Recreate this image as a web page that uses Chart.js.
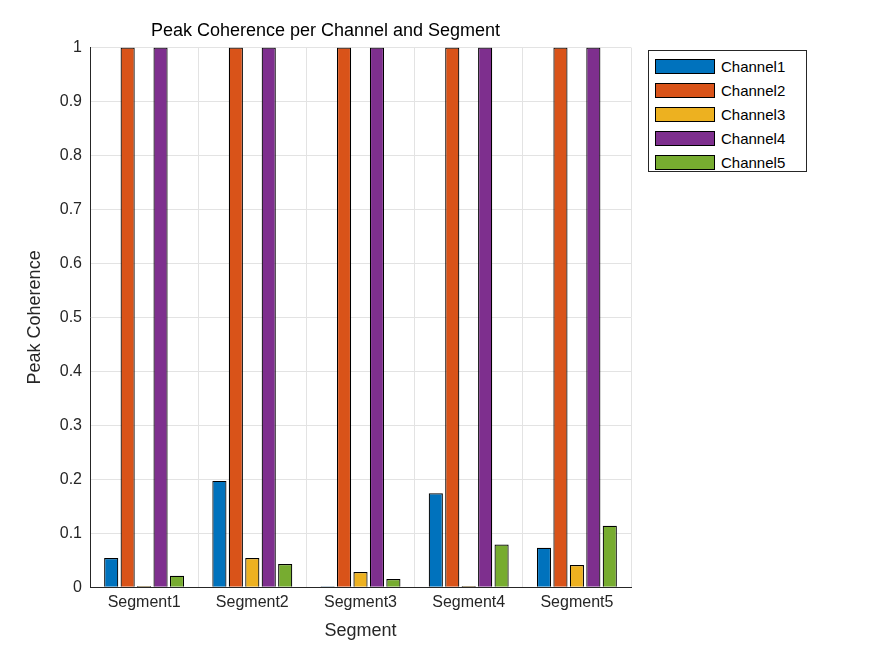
<!DOCTYPE html>
<html><head><meta charset="utf-8">
<script src="https://cdn.jsdelivr.net/npm/chart.js"></script>
<style>
body{margin:0;background:#fff;font-family:Arial,"Liberation Sans",sans-serif}
#wrap{position:relative;width:875px;height:656px}
#legend{position:absolute;left:648px;top:50px;width:159px;height:122px;border:1px solid #262626;background:#fff;box-sizing:border-box;padding:3px 0 0 6px}
.li{display:flex;align-items:center;height:24px;font-size:15px;color:#000}
.sw{width:60px;height:15px;border:1px solid #000;box-sizing:border-box;margin-right:6px}
</style></head><body>
<div id="wrap"><canvas id="c" width="875" height="656"></canvas><div id="legend"></div></div>
<script>
const categories=["Segment1","Segment2","Segment3","Segment4","Segment5"];
const seriesNames=["Channel1","Channel2","Channel3","Channel4","Channel5"];
const channel1=[0.054,0.197,0.0,0.174,0.073];
const channel2=[1,1,1,1,1];
const channel3=[0.002,0.054,0.028,0.002,0.041];
const channel4=[1,1,1,1,1];
const channel5=[0.021,0.043,0.015,0.079,0.114];
const colors=["#0072BD","#D95319","#EDB120","#7E2F8E","#77AC30"];
const yTicks=[0,0.1,0.2,0.3,0.4,0.5,0.6,0.7,0.8,0.9,1];
const data=[channel1,channel2,channel3,channel4,channel5];
const lg=document.getElementById('legend');
seriesNames.forEach((n,i)=>{lg.innerHTML+=`<div class="li"><div class="sw" style="background:${colors[i]}"></div>${n}</div>`;});
new Chart(document.getElementById('c'),{type:'bar',
data:{labels:categories,datasets:data.map((d,i)=>({label:seriesNames[i],data:d,backgroundColor:colors[i],borderColor:'#000',borderWidth:1.2,categoryPercentage:0.76,barPercentage:0.86,minBarLength:1}))},
options:{responsive:false,animation:false,
layout:{padding:{left:20,right:244,top:0,bottom:10}},
plugins:{legend:{display:false},tooltip:{enabled:false},
title:{display:true,text:'Peak Coherence per Channel and Segment',color:'#000',font:{size:18,weight:'normal',family:'Arial'},padding:{top:20,bottom:6}}},
scales:{
x:{grid:{color:'#e3e3e3',drawTicks:true,tickLength:0},border:{color:'#262626'},ticks:{color:'#262626',font:{size:16,family:'Arial'},padding:6},
 title:{display:true,text:'Segment',color:'#262626',font:{size:18,family:'Arial'},padding:{top:2}}},
y:{min:0,max:1,afterBuildTicks:s=>{s.ticks=yTicks.map(v=>({value:v}));},afterFit:s=>{s.width=70;},
 grid:{color:'#e3e3e3',tickLength:0},border:{color:'#262626'},
 ticks:{color:'#262626',font:{size:16,family:'Arial'},padding:8,callback:v=>String(v)},
 title:{display:true,text:'Peak Coherence',color:'#262626',font:{size:18,family:'Arial'}}}
}}});
</script></body></html>
